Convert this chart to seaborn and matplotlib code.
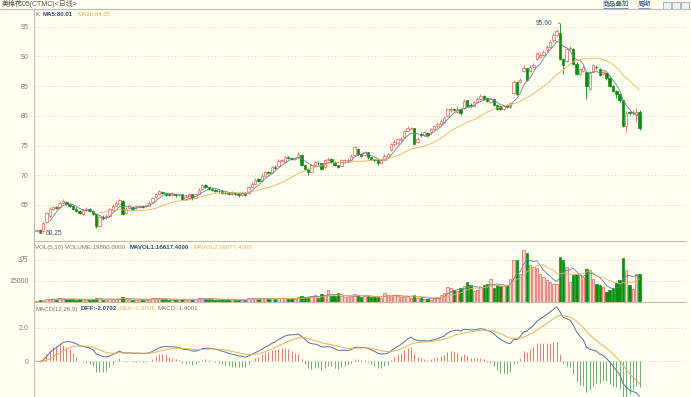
import numpy as np
import pandas as pd
import seaborn as sns
import matplotlib.pyplot as plt
from matplotlib.patches import Rectangle
from matplotlib.lines import Line2D

# daily K-line, 183 bars
opens = [60.6, 60.8, 60.6, 62.1, 63.2, 64.4, 64.6, 64.7, 65.4, 65.5,
         65.2, 64.8, 64.4, 64.0, 63.5, 64.2, 64.3, 64.0, 63.4, 61.5,
         63.0, 62.9, 63.1, 64.2, 64.9, 65.2, 65.7, 63.7, 64.5, 64.7,
         64.6, 64.7, 64.8, 64.8, 64.9, 65.5, 66.3, 66.9, 67.2, 67.0,
         66.8, 66.7, 66.8, 66.7, 66.8, 66.0, 66.1, 66.8, 66.2, 66.8,
         67.7, 68.4, 68.0, 67.7, 67.6, 67.4, 67.3, 67.1, 67.0, 66.8,
         67.0, 66.9, 66.7, 66.9, 67.0, 68.1, 68.6, 69.3, 69.1, 69.9,
         70.5, 70.4, 71.4, 71.6, 72.4, 72.2, 73.0, 72.9, 72.8, 72.9,
         73.4, 71.7, 71.1, 70.6, 71.7, 72.1, 72.0, 71.4, 72.5, 72.8,
         72.3, 71.7, 71.6, 72.5, 72.4, 72.6, 73.4, 74.4, 73.6, 73.4,
         73.9, 73.0, 72.7, 72.5, 72.1, 72.6, 73.0, 74.2, 75.2, 75.4,
         75.9, 76.4, 77.5, 77.8, 77.9, 75.6, 77.0, 76.8, 77.1, 77.2,
         77.8, 78.3, 78.6, 79.0, 80.0, 81.0, 81.2, 80.6, 81.2, 81.3,
         82.6, 81.9, 81.7, 82.3, 82.9, 83.4, 83.0, 82.3, 82.8, 81.9,
         81.7, 81.2, 81.9, 81.5, 83.9, 85.7, 85.7, 87.5, 88.0, 87.6,
         88.2, 89.6, 89.9, 90.2, 91.0, 91.6, 92.7, 93.6, 94.0, 89.6,
         89.2, 91.3, 91.3, 88.8, 87.0, 87.5, 87.4, 84.5, 87.4, 88.3,
         87.9, 87.0, 87.2, 86.3, 85.0, 84.2, 83.6, 82.6, 78.3, 80.6,
         80.4, 80.3, 80.7]
closes = [60.8, 60.5, 62.0, 63.6, 64.4, 64.6, 64.5, 65.4, 65.6, 65.2,
          64.8, 64.4, 64.0, 63.6, 64.2, 64.3, 64.0, 63.5, 61.5, 63.0,
          62.8, 63.2, 64.3, 64.9, 65.3, 65.8, 63.5, 64.4, 64.9, 64.3,
          64.8, 64.8, 64.7, 65.0, 65.4, 66.2, 66.8, 67.3, 67.0, 66.7,
          66.7, 66.8, 66.7, 66.7, 66.0, 66.4, 66.8, 66.1, 66.8, 67.6,
          68.3, 68.0, 67.7, 67.6, 67.4, 67.3, 67.1, 67.0, 66.8, 67.0,
          66.9, 66.7, 67.0, 66.7, 68.0, 68.6, 69.2, 69.1, 69.9, 70.5,
          70.4, 71.4, 71.3, 72.4, 72.5, 73.0, 72.9, 72.8, 72.9, 73.6,
          71.7, 71.1, 70.6, 71.7, 72.2, 72.0, 71.1, 72.5, 72.8, 72.3,
          71.7, 71.4, 72.5, 72.5, 72.6, 73.3, 74.7, 73.6, 73.3, 73.9,
          73.0, 72.7, 72.5, 72.0, 72.6, 73.3, 73.6, 75.3, 75.6, 76.1,
          76.1, 77.5, 78.0, 78.0, 75.3, 76.1, 76.7, 77.2, 76.8, 77.8,
          78.3, 78.6, 79.2, 79.7, 81.2, 81.2, 81.0, 81.2, 80.4, 82.5,
          81.7, 81.7, 82.3, 82.85, 83.4, 82.9, 82.5, 82.8, 81.9, 81.2,
          81.2, 81.6, 81.5, 82.2, 85.7, 83.7, 86.0, 88.0, 86.0, 88.2,
          88.6, 90.5, 90.2, 90.8, 91.6, 92.5, 93.6, 94.2, 89.6, 88.6,
          91.3, 91.5, 88.8, 87.1, 87.9, 88.2, 85.0, 87.4, 88.5, 88.2,
          86.9, 87.4, 86.3, 85.0, 84.2, 83.6, 82.6, 78.3, 80.4, 80.5,
          80.6, 80.7, 77.9]
highs = [61.0, 61.0, 62.2, 63.8, 64.6, 64.9, 64.9, 65.6, 66.0, 65.7,
         65.4, 65.0, 64.6, 64.2, 64.4, 64.6, 64.5, 64.1, 63.5, 63.2,
         63.3, 63.4, 64.5, 65.1, 65.6, 66.0, 65.8, 64.6, 65.1, 64.8,
         65.0, 65.0, 65.0, 65.2, 65.6, 66.4, 67.0, 67.5, 67.4, 67.1,
         67.0, 67.2, 67.0, 66.9, 66.9, 66.6, 67.0, 66.9, 67.0, 67.8,
         68.6, 68.5, 68.1, 67.9, 67.7, 67.6, 67.5, 67.3, 67.2, 67.3,
         67.2, 67.1, 67.3, 67.1, 68.2, 68.9, 69.5, 69.5, 70.3, 70.7,
         70.8, 71.6, 71.7, 72.7, 72.8, 73.3, 73.3, 73.1, 73.1, 74.0,
         73.5, 71.8, 71.2, 71.9, 72.4, 72.4, 72.1, 72.7, 73.0, 72.9,
         72.4, 71.8, 72.7, 72.8, 72.9, 73.5, 75.0, 74.6, 73.8, 74.1,
         74.0, 73.1, 72.8, 72.6, 72.8, 73.5, 73.8, 75.5, 75.9, 76.3,
         76.4, 77.7, 78.3, 78.2, 78.0, 76.4, 77.2, 77.4, 77.3, 78.0,
         78.5, 78.9, 79.5, 80.0, 81.4, 81.5, 81.4, 81.6, 81.3, 82.8,
         82.7, 82.1, 82.5, 83.1, 83.7, 83.5, 83.1, 83.0, 82.9, 82.0,
         81.8, 81.8, 82.0, 82.4, 86.0, 85.9, 86.3, 88.5, 88.1, 88.5,
         88.9, 90.8, 90.5, 91.1, 91.9, 92.8, 93.9, 94.6, 95.6, 89.8,
         91.5, 91.8, 91.5, 89.0, 88.1, 88.5, 87.5, 87.6, 88.7, 88.6,
         88.1, 87.6, 87.3, 86.5, 85.2, 84.3, 83.7, 82.7, 80.8, 80.8,
         81.0, 81.3, 81.0]
lows = [60.4, 60.25, 60.5, 62.0, 63.0, 64.2, 64.3, 64.5, 65.1, 65.0,
        64.6, 64.2, 63.8, 63.4, 63.3, 64.0, 63.8, 63.3, 61.2, 61.3,
        62.5, 62.6, 63.0, 64.0, 64.8, 65.1, 63.3, 63.5, 64.3, 64.1,
        64.4, 64.5, 64.5, 64.6, 64.8, 65.4, 66.1, 66.7, 66.8, 66.5,
        66.5, 66.5, 66.4, 66.5, 65.8, 65.8, 66.0, 65.9, 66.1, 66.7,
        67.6, 67.8, 67.5, 67.4, 67.2, 67.0, 66.9, 66.8, 66.6, 66.6,
        66.6, 66.4, 66.5, 66.5, 66.9, 68.0, 68.5, 68.9, 69.0, 69.8,
        70.2, 70.3, 71.1, 71.5, 72.2, 72.1, 72.7, 72.6, 72.6, 72.8,
        71.5, 70.9, 70.0, 70.5, 71.6, 71.8, 70.9, 71.3, 72.4, 72.1,
        71.5, 71.2, 71.5, 72.3, 72.2, 72.5, 73.3, 73.4, 73.1, 73.2,
        72.8, 72.5, 72.3, 71.8, 72.0, 72.5, 72.9, 74.1, 75.0, 75.3,
        75.7, 76.3, 77.4, 77.6, 75.1, 75.4, 76.5, 76.6, 76.6, 77.0,
        77.6, 78.1, 78.4, 78.9, 79.8, 80.7, 80.8, 80.4, 80.2, 81.2,
        81.5, 81.5, 81.6, 82.1, 82.8, 82.7, 82.3, 82.1, 81.7, 81.0,
        81.0, 81.0, 81.3, 81.4, 83.7, 83.5, 85.5, 87.3, 85.8, 87.4,
        88.0, 89.4, 89.7, 90.0, 90.8, 91.4, 92.5, 93.4, 89.4, 87.0,
        89.0, 91.0, 88.6, 86.9, 86.8, 87.3, 82.9, 84.3, 87.2, 87.9,
        86.7, 86.8, 86.1, 84.8, 84.0, 83.0, 82.4, 78.1, 77.2, 80.2,
        80.1, 79.0, 77.7]
volumes = [800, 1200, 1500, 2200, 2000, 1800, 1500, 2400, 2200, 1600,
           1800, 2000, 1400, 1600, 1800, 1500, 1300, 1700, 2600, 2400,
           1500, 1400, 1900, 2100, 1800, 2200, 3200, 1900, 1700, 1500,
           1400, 1600, 1300, 1500, 1800, 2400, 2600, 2200, 1800, 1700,
           1500, 1400, 1300, 1200, 2000, 1500, 1700, 1900, 1600, 2300,
           2900, 2200, 1800, 1600, 1500, 1400, 1600, 1300, 1500, 1400,
           1300, 1200, 1500, 1400, 2600, 2400, 2200, 1900, 2500, 2700,
           2000, 2600, 1800, 2900, 2400, 2300, 2000, 1800, 2100, 3000,
           4200, 3600, 3300, 3800, 4500, 2800, 5300, 4600, 8000, 3900,
           4200, 6000, 3800, 3300, 3200, 3600, 5400, 5000, 3500, 3800,
           4200, 3600, 3100, 3400, 2800, 6000, 4500, 3900, 4800, 4200,
           3600, 3100, 3800, 2900, 4500, 2800, 2600, 2200, 1600, 1400,
           2400, 3200, 4600, 6500, 10400, 9700, 8500, 7300, 9700, 10900,
           14000, 12100, 7300, 8500, 10200, 12100, 12800, 16400, 9700, 12100,
           10900, 10900, 12100, 16400, 29700, 29700, 20000, 37000, 34600, 26100,
           25000, 24000, 20000, 17600, 15200, 14000, 12800, 12800, 32100, 29700,
           24900, 14000, 18900, 20000, 19000, 17600, 23700, 22500, 16400, 12800,
           11600, 10400, 6800, 8400, 9600, 13500, 15200, 30900, 22500, 11600,
           9200, 20000, 19860]

price_ticks = [65, 70, 75, 80, 85, 90, 95]
vol_ticks = [15000, 30000]
vol_tick_labels = ['15000', '3万']
macd_ticks = [0, 2.0]
macd_tick_labels = ['0', '2.0']

df = pd.DataFrame({'open': opens, 'close': closes, 'high': highs,
                   'low': lows, 'vol': volumes})
df['i'] = np.arange(len(df))
df['ma5'] = df['close'].rolling(5).mean()
df['ma20'] = df['close'].rolling(20).mean()
df['mavol1'] = df['vol'].rolling(5).mean()
df['mavol2'] = df['vol'].rolling(10).mean()
ema12 = df['close'].ewm(span=12, adjust=False).mean()
ema26 = df['close'].ewm(span=26, adjust=False).mean()
df['diff'] = ema12 - ema26
df['dea'] = df['diff'].ewm(span=9, adjust=False).mean()
df['macd'] = 2 * (df['diff'] - df['dea'])
up = (df['close'] >= df['open']).values

sns.set_style('white')
plt.rcParams['font.family'] = ['Liberation Sans', 'Noto Sans CJK SC']

bg = '#FEFEF1'
red = '#E2645C'
pink = '#F6D6CE'
green = '#0E8C0E'
blue = '#6D7E9E'      # MA5 / MAVOL1 / DIFF lines
orange = '#EBB05A'    # MA20 / MAVOL2 / DEA lines
navy = '#2F4B7C'
gridc = '#DCDCCB'
framec = '#BDBDAE'
tickc = '#7A7A7A'

W, H = 691, 397
fig = plt.figure(figsize=(W / 100, H / 100), dpi=100)
fig.patch.set_facecolor(bg)


def px_axes(x0, y0, x1, y1):
    return fig.add_axes([x0 / W, 1 - y1 / H, (x1 - x0) / W, (y1 - y0) / H])


def ftext(x, y, s, **kw):
    fig.text(x / W, 1 - y / H, s, va='center', **kw)


ax_k = px_axes(34, 9, 686, 241)
ax_v = px_axes(34, 241, 686, 302)
ax_m = px_axes(34, 302, 686, 397)

step = (639.5 - 36.5) / 182
xlim = (-2.5 / step, (686 - 36.5) / step)

for ax in (ax_k, ax_v, ax_m):
    ax.set_facecolor(bg)
    ax.set_xlim(*xlim)
    ax.set_xticks([])
    for s in ('right', 'bottom'):
        ax.spines[s].set_visible(False)
    for s in ('left', 'top'):
        ax.spines[s].set_color(framec)
        ax.spines[s].set_linewidth(0.8)
    ax.yaxis.grid(True, linestyle=(0, (2, 2)), color=gridc, linewidth=0.6)
    ax.set_axisbelow(True)
    ax.tick_params(axis='y', length=0, pad=4, labelsize=5, labelcolor=tickc)

# candles
wick_cols = np.where(up, red, green)
ax_k.vlines(df['i'], df['low'], df['high'], colors=wick_cols, linewidth=0.6, zorder=2)
body_low = np.minimum(df['open'], df['close'])
body_h = np.maximum(np.abs(df['close'] - df['open']), 0.06)
ax_k.bar(df['i'], body_h, bottom=body_low, width=0.72,
         color=np.where(up, bg, green), edgecolor=wick_cols, linewidth=0.5, zorder=3)
sns.lineplot(data=df, x='i', y='ma5', ax=ax_k, color=blue, linewidth=0.6, zorder=4)
sns.lineplot(data=df, x='i', y='ma20', ax=ax_k, color=orange, linewidth=0.6, zorder=4)
ax_k.set_ylim(58.94, 97.98)
ax_k.set_yticks(price_ticks)
ax_k.set_yticklabels([str(t) for t in price_ticks])
ax_k.annotate('60.25', xy=(1, 60.25), xytext=(2.8, 60.25), fontsize=4.8, color='#44506A',
              va='center', ha='left', arrowprops=dict(arrowstyle='-', color='#44506A', lw=0.5))
ax_k.annotate('95.60', xy=(158, 95.6), xytext=(155.6, 95.6), fontsize=4.8, color='#44506A',
              va='center', ha='right', arrowprops=dict(arrowstyle='-', color='#44506A', lw=0.5))

# volume
ax_v.bar(df['i'], df['vol'], width=0.72, color=np.where(up, pink, green),
         edgecolor=wick_cols, linewidth=0.5, zorder=2)
sns.lineplot(data=df, x='i', y='mavol1', ax=ax_v, color=blue, linewidth=0.6, zorder=3)
sns.lineplot(data=df, x='i', y='mavol2', ax=ax_v, color=orange, linewidth=0.6, zorder=3)
ax_v.set_ylim(-214, 43340)
ax_v.set_yticks(vol_ticks)
ax_v.set_yticklabels(vol_tick_labels)

# MACD
ax_m.vlines(df['i'], 0, df['macd'], colors=np.where(df['macd'] >= 0, '#DE7A74', '#72AD72'),
            linewidth=0.7, zorder=2)
sns.lineplot(data=df, x='i', y='diff', ax=ax_m, color='#5A6F96', linewidth=0.7, zorder=3)
sns.lineplot(data=df, x='i', y='dea', ax=ax_m, color=orange, linewidth=0.7, zorder=3)
ax_m.set_ylim(-2.14, 3.56)
ax_m.set_yticks(macd_ticks)
ax_m.set_yticklabels(macd_tick_labels)

for ax in (ax_k, ax_v, ax_m):
    ax.set_xlabel('')
    ax.set_ylabel('')

# header and legend texts
fig.add_artist(Line2D([0, 1], [1 - 9 / H, 1 - 9 / H], color=framec, linewidth=0.8))
ftext(2, 4.5, '美棉花05(CTMC)<日线>', fontsize=5, color='#555555')
ftext(603, 4.5, '商品叠加', fontsize=4.8, color='#2B4C9B')
fig.add_artist(Line2D([603 / W, 628 / W], [1 - 8 / H, 1 - 8 / H], color='#2B4C9B', linewidth=0.4))
ftext(638, 4.5, '周期', fontsize=4.8, color='#2B4C9B')
fig.add_artist(Line2D([638 / W, 650 / W], [1 - 8 / H, 1 - 8 / H], color='#2B4C9B', linewidth=0.4))
for x0 in (663, 672, 681):
    fig.add_artist(Rectangle((x0 / W, 1 - 8.5 / H), 8 / W, 7 / H, facecolor='#EEF2F8',
                             edgecolor='#8A9AB5', linewidth=0.5))

ftext(36, 14.5, 'K', fontsize=4.4, color='#666666')
ftext(43, 14.5, 'MA5:80.01', fontsize=4.4, color=navy, fontweight='bold')
ftext(77, 14.5, 'MA20:84.05', fontsize=4.4, color=orange)

ftext(35, 247, 'VOL(5,10) VOLUME:19860.0000', fontsize=4.4, color='#777777')
ftext(130, 247, 'MAVOL1:16617.4000', fontsize=4.4, color=navy, fontweight='bold')
ftext(193, 247, 'MAVOL2:16077.4000', fontsize=4.4, color=orange)

ftext(35, 309, 'MACD(12,26,9)', fontsize=4.4, color='#777777')
ftext(81, 309, 'DIFF:-2.0702', fontsize=4.4, color=navy, fontweight='bold')
ftext(119, 309, 'DEA:-1.3701', fontsize=4.4, color=orange)
ftext(157, 309, 'MACD:-1.4001', fontsize=4.4, color='#777777')

fig.savefig('out.png', dpi=100, facecolor=bg)
